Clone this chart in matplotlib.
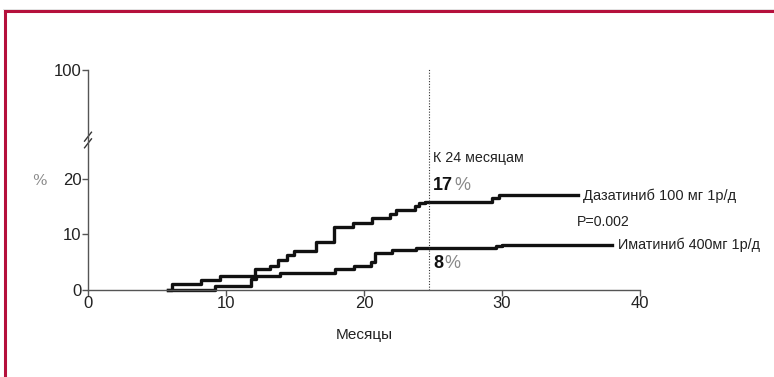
import matplotlib.pyplot as plt
from matplotlib.lines import Line2D

plt.rcParams['font.family'] = ['Liberation Sans', 'DejaVu Sans']

# cumulative incidence, % (step curves)
dasa_t = [5.8, 6.1, 8.2, 9.6, 12.1, 13.2, 13.8, 14.4, 14.9, 16.5, 17.8, 19.2,
          20.6, 21.9, 22.3, 23.7, 24.0, 24.4, 29.3, 29.8, 35.5]
dasa_v = [0.0, 1.0, 1.8, 2.6, 3.8, 4.4, 5.4, 6.3, 7.1, 8.6, 11.3, 12.0,
          12.9, 13.6, 14.4, 15.1, 15.6, 15.9, 16.6, 17.1, 17.1]
imat_t = [5.8, 9.2, 11.8, 12.2, 13.9, 17.9, 19.3, 20.5, 20.8, 22.0, 23.8,
          29.6, 30.0, 38.0]
imat_v = [0.0, 0.8, 1.9, 2.6, 3.0, 3.8, 4.3, 5.0, 6.6, 7.2, 7.6,
          7.9, 8.1, 8.1]

dasa_name = 'Дазатиниб 100 мг 1р/д'
imat_name = 'Иматиниб 400мг 1р/д'
dasa_pct = 17
imat_pct = 8
p_text = 'P=0.002'
t_mark = 24.7

xticks = [0, 10, 20, 30, 40]
yticks = [0, 10, 20, 100]
Y100 = 39.6     # where 100 sits on the broken axis
YBRK = 27.0     # break position

fig = plt.figure(figsize=(7.74, 3.77), dpi=100)
ax = fig.add_axes([88/774, 87/377, 552/774, 220/377])

ax.step(dasa_t, dasa_v, where='post', color='#111111', lw=2.4, clip_on=False)
ax.step(imat_t, imat_v, where='post', color='#111111', lw=2.4, clip_on=False)
ax.plot([t_mark, t_mark], [0, Y100 + 0.3], color='#333333', lw=0.8, ls=(0, (1, 1.5)),
        clip_on=False)

ax.set_xlim(0, 40)
ax.set_ylim(0, Y100)
ax.set_xticks(xticks)
ax.set_yticks([v if v != 100 else Y100 for v in yticks])
ax.set_yticklabels([str(v) for v in yticks])
for s in ['top', 'right']:
    ax.spines[s].set_visible(False)
for s in ['left', 'bottom']:
    ax.spines[s].set_color('#555555')
    ax.spines[s].set_linewidth(1.0)
ax.tick_params(colors='#555555', labelcolor='#222222', labelsize=12, length=4, width=1,
               pad=0.5)

# break marks on the y axis
for dy in (-0.6, 0.6):
    ax.plot([-0.25, 0.25], [YBRK + dy - 0.8, YBRK + dy + 0.8], color='#333333', lw=1.0,
            clip_on=False)

ax.set_xlabel('Месяцы', fontsize=11, color='#222222', labelpad=12)
ax.text(-3.0, 19.6, '%', fontsize=11, color='#888888', ha='right', va='center',
        family='DejaVu Serif')

ax.text(25.0, 23.8, 'К 24 месяцам', fontsize=10.3, color='#222222', va='center')
t17 = ax.text(25.0, 18.8, str(dasa_pct), fontsize=13, fontweight='bold', color='#111111',
              va='center')
ax.annotate('%', xy=(1, 0.5), xycoords=t17, xytext=(0.8, 0), textcoords='offset points',
            fontsize=13, color='#888888', va='center')
t8 = ax.text(25.0, 4.7, str(imat_pct), fontsize=13, fontweight='bold', color='#111111',
             va='center')
ax.annotate('%', xy=(1, 0.5), xycoords=t8, xytext=(0.8, 0), textcoords='offset points',
            fontsize=13, color='#888888', va='center')

ax.text(dasa_t[-1] + 0.4, dasa_v[-1] - 0.1, dasa_name, fontsize=10.5, color='#222222',
        va='center')
ax.text(imat_t[-1] + 0.4, imat_v[-1], imat_name, fontsize=10.4, color='#222222',
        va='center')
ax.text(35.4, 12.3, p_text, fontsize=10.2, color='#222222', va='center')

# crimson frame (left and top edges)
fig.add_artist(Line2D([5/774, 1], [1 - 11/377, 1 - 11/377], color='#b5103c', lw=2.2))
fig.add_artist(Line2D([5/774, 5/774], [0, 1 - 11/377], color='#b5103c', lw=2.2))
fig.add_artist(Line2D([3/774, 1], [1 - 9/377, 1 - 9/377], color='#dddddd', lw=0.6))

fig.savefig('out.png', dpi=100)
